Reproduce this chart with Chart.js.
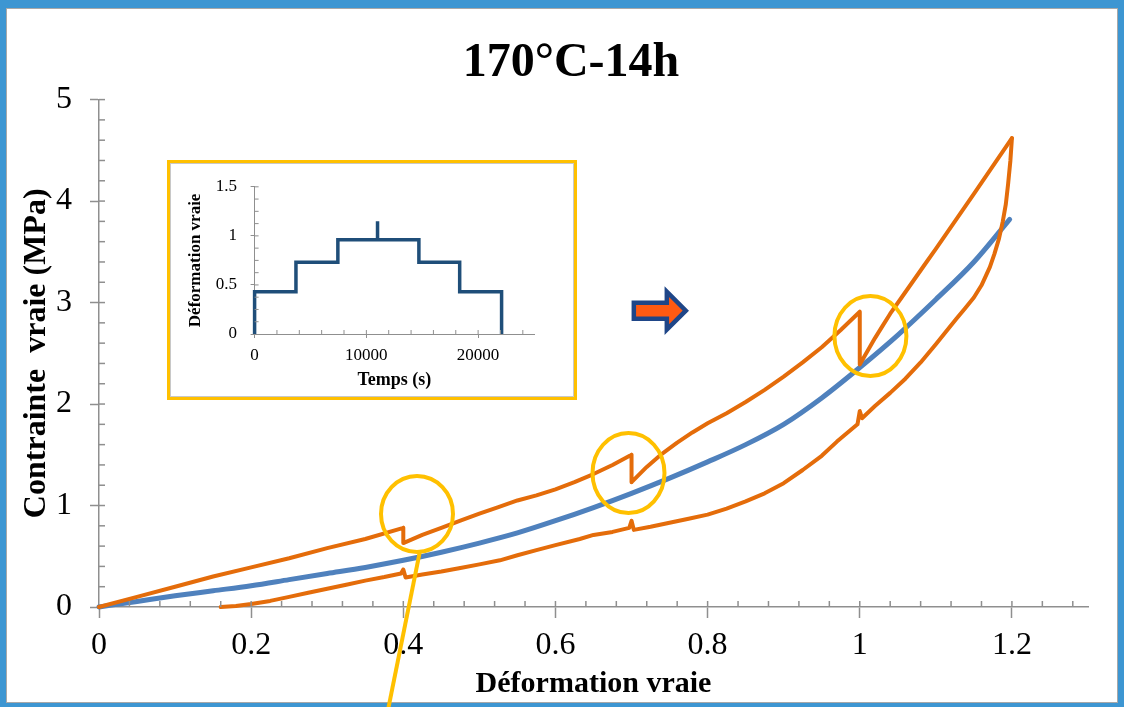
<!DOCTYPE html>
<html>
<head>
<meta charset="utf-8">
<script src="https://cdn.jsdelivr.net/npm/chart.js@4.4.0/dist/chart.umd.min.js"></script>
<style>
  html, body { margin: 0; padding: 0; background: #fff; }
  #page { position: relative; width: 1124px; height: 707px; overflow: hidden; background: #fff; }
  #frame { position: absolute; left: 0; top: 0; width: 1124px; height: 707px; box-sizing: border-box;
    border-style: solid; border-color: #3d96d2; border-width: 8px 6px 4px 6px; }
  #frame-inner { position: absolute; left: 0; top: 0; right: 0; bottom: 0; border: 1px solid #a8a8a8; }
  #main { position: absolute; left: 0; top: 0; }
  #inset { position: absolute; left: 167px; top: 160px; width: 410px; height: 240px; box-sizing: border-box;
    border: 3px solid #ffc000; background: #fff; box-shadow: inset 0 0 0 1px #c8c8c8; }
  #insetChart { position: absolute; left: 0; top: 0; }
</style>
</head>
<body>
<div id="page">
  <div id="frame"><div id="frame-inner"></div></div>
  <canvas id="main" width="1124" height="707"></canvas>
  <div id="inset"><canvas id="insetChart" width="404" height="234"></canvas></div>
</div>
<script>
// monotonic test (blue)
const blueStrain = [0, 0.05, 0.1, 0.15, 0.2, 0.25, 0.3, 0.35, 0.4, 0.45, 0.5, 0.55, 0.6, 0.65, 0.7,
  0.75, 0.8, 0.85, 0.9, 0.95, 1.0, 1.05, 1.1, 1.15, 1.197];
const blueStress = [0, 0.055, 0.11, 0.16, 0.21, 0.27, 0.33, 0.39, 0.46, 0.54, 0.63, 0.73, 0.85, 0.98, 1.12,
  1.27, 1.43, 1.60, 1.80, 2.06, 2.36, 2.68, 3.03, 3.40, 3.82];

// multi-step test, loading branch (orange)
const loadStrain = [0, 0.05, 0.1, 0.15, 0.2, 0.25, 0.3, 0.35, 0.4,
  0.4, 0.425, 0.45, 0.475, 0.5, 0.525, 0.55, 0.575, 0.6, 0.625, 0.65, 0.675, 0.7,
  0.7, 0.72, 0.74, 0.76, 0.78, 0.8, 0.825, 0.85, 0.875, 0.9, 0.925, 0.95, 0.975, 1.0,
  1.0, 1.01, 1.02, 1.03, 1.04, 1.055, 1.07, 1.085, 1.1, 1.15, 1.2];
const loadStress = [0, 0.10, 0.20, 0.30, 0.39, 0.48, 0.58, 0.67, 0.78,
  0.63, 0.71, 0.78, 0.85, 0.92, 0.985, 1.05, 1.10, 1.16, 1.23, 1.31, 1.40, 1.50,
  1.23, 1.38, 1.51, 1.62, 1.72, 1.81, 1.91, 2.02, 2.14, 2.27, 2.41, 2.56, 2.73, 2.91,
  2.39, 2.52, 2.65, 2.77, 2.89, 3.05, 3.21, 3.37, 3.53, 4.07, 4.62];

// unloading branch (orange)
const unloadStrain = [1.2, 1.198, 1.195, 1.192, 1.188, 1.183, 1.177, 1.171, 1.16, 1.15, 1.138, 1.127,
  1.114, 1.1, 1.08, 1.06, 1.04, 1.02, 1.003, 1.0, 0.997, 0.97, 0.95, 0.925,
  0.9, 0.875, 0.85, 0.825, 0.8, 0.775, 0.75, 0.725, 0.703, 0.7, 0.697, 0.675, 0.65, 0.632, 0.6, 0.575, 0.55,
  0.527, 0.5, 0.475, 0.45, 0.425, 0.403, 0.4, 0.397, 0.375, 0.35, 0.325, 0.3, 0.275, 0.25, 0.225, 0.2, 0.18, 0.16];
const unloadStress = [4.62, 4.40, 4.17, 3.97, 3.80, 3.63, 3.48, 3.35, 3.17, 3.05, 2.94, 2.84,
  2.72, 2.59, 2.41, 2.25, 2.11, 1.98, 1.86, 1.93, 1.80, 1.63, 1.49, 1.35,
  1.22, 1.12, 1.04, 0.97, 0.91, 0.87, 0.83, 0.79, 0.76, 0.85, 0.78, 0.74, 0.71, 0.67, 0.61, 0.56, 0.51,
  0.46, 0.42, 0.385, 0.35, 0.32, 0.29, 0.37, 0.33, 0.295, 0.26, 0.22, 0.18, 0.14, 0.10, 0.06, 0.03, 0.01, 0];

// inset: imposed strain vs time
const insetTime = [0, 0, 3700, 3700, 7450, 7450, 11000, 11000, 11000, 14700, 14700, 18350, 18350, 22100, 22100];
const insetStrain = [0, 0.43, 0.43, 0.73, 0.73, 0.96, 0.96, 1.15, 0.96, 0.96, 0.73, 0.73, 0.43, 0.43, 0];
const insetTimeTicks = [0, 10000, 20000];
const insetStrainTicks = [0, 0.5, 1, 1.5];

const serif = "'Liberation Serif', 'Times New Roman', serif";
const axisGray = '#8f8f8f';

function toPoints(xs, ys) {
  return xs.map((x, i) => ({ x: x, y: ys[i] }));
}

function fmt(v) {
  return String(Number(v.toFixed(3)));
}

// inner tick marks (majors cross the axis, minors only inside)
const minorTicks = {
  id: 'minorTicks',
  afterDraw(chart, args, opts) {
    const { ctx } = chart;
    const xs = chart.scales.x, ys = chart.scales.y;
    const x0 = xs.getPixelForValue(xs.min), y0 = ys.getPixelForValue(ys.min);
    ctx.save();
    ctx.strokeStyle = axisGray;
    ctx.lineWidth = opts.width;
    const nx = Math.floor((xs.max - xs.min) / opts.xStep + 1e-6);
    for (let i = 1; i <= nx; i++) {
      const px = xs.getPixelForValue(xs.min + i * opts.xStep);
      ctx.beginPath(); ctx.moveTo(px, y0); ctx.lineTo(px, y0 - opts.length); ctx.stroke();
    }
    const ny = Math.floor((ys.max - ys.min) / opts.yStep + 1e-6);
    for (let i = 1; i <= ny; i++) {
      const py = ys.getPixelForValue(ys.min + i * opts.yStep);
      ctx.beginPath(); ctx.moveTo(x0, py); ctx.lineTo(x0 + opts.length, py); ctx.stroke();
    }
    ctx.restore();
  }
};

// yellow circles, pointer line and arrow drawn over the curves
const callouts = {
  id: 'callouts',
  afterDatasetsDraw(chart) {
    const { ctx } = chart;
    const xs = chart.scales.x, ys = chart.scales.y;
    const rings = [[0.418, 0.917, 36, 38], [0.696, 1.32, 36, 40], [1.014, 2.67, 36, 40]];
    ctx.save();
    ctx.strokeStyle = '#ffc000';
    ctx.lineWidth = 4;
    rings.forEach(r => {
      ctx.beginPath();
      ctx.ellipse(xs.getPixelForValue(r[0]), ys.getPixelForValue(r[1]), r[2], r[3], 0, 0, Math.PI * 2);
      ctx.stroke();
    });
    const cx = xs.getPixelForValue(rings[0][0]), cy = ys.getPixelForValue(rings[0][1]);
    ctx.beginPath();
    ctx.moveTo(cx + 3, cy + 37);
    ctx.lineTo(cx - 31, cy + 206);
    ctx.stroke();

    // arrow
    const ax = xs.getPixelForValue(0.703), ay = ys.getPixelForValue(2.92);
    ctx.beginPath();
    ctx.moveTo(ax, ay - 8);
    ctx.lineTo(ax + 33, ay - 8);
    ctx.lineTo(ax + 33, ay - 19);
    ctx.lineTo(ax + 52, ay);
    ctx.lineTo(ax + 33, ay + 19);
    ctx.lineTo(ax + 33, ay + 8);
    ctx.lineTo(ax, ay + 8);
    ctx.closePath();
    ctx.fillStyle = '#ff5a12';
    ctx.fill();
    ctx.lineJoin = 'miter';
    ctx.lineWidth = 4.5;
    ctx.strokeStyle = '#1f4688';
    ctx.stroke();
    ctx.restore();
  }
};

new Chart(document.getElementById('main'), {
  type: 'scatter',
  data: {
    datasets: [
      { label: 'Charge', data: toPoints(loadStrain, loadStress), showLine: true, borderColor: '#e46c0a',
        borderWidth: 4, pointRadius: 0, clip: false, borderJoinStyle: 'round', borderCapStyle: 'round' },
      { label: 'Décharge', data: toPoints(unloadStrain, unloadStress), showLine: true, borderColor: '#e46c0a',
        borderWidth: 4, pointRadius: 0, clip: false, borderJoinStyle: 'round', borderCapStyle: 'round' },
      { label: 'Monotone', data: toPoints(blueStrain, blueStress), showLine: true, borderColor: '#4f81bd',
        borderWidth: 5, pointRadius: 0, clip: false, borderCapStyle: 'round', cubicInterpolationMode: 'monotone' }
    ]
  },
  options: {
    responsive: false,
    animation: false,
    devicePixelRatio: 1,
    layout: { padding: { left: 54, right: 36, top: 0, bottom: 0 } },
    plugins: {
      legend: { display: false },
      tooltip: { enabled: false },
      title: {
        display: true,
        text: '170°C-14h',
        color: '#000',
        font: { family: serif, size: 48, weight: 'bold', lineHeight: 1.2 },
        padding: { top: 35, bottom: 7 }
      },
      minorTicks: { xStep: 0.04, yStep: 0.2, length: 6, width: 1.5 }
    },
    scales: {
      x: {
        type: 'linear',
        min: 0,
        max: 1.3,
        ticks: { stepSize: 0.2, includeBounds: false, color: '#000', maxRotation: 0, padding: 8,
          font: { family: serif, size: 32, lineHeight: 1.2 }, callback: v => fmt(v) },
        grid: { display: true, drawOnChartArea: false, drawTicks: true, tickLength: 11, tickColor: axisGray, tickWidth: 1.5 },
        border: { display: true, color: axisGray, width: 1.5 },
        title: { display: true, text: 'Déformation vraie', color: '#000',
          font: { family: serif, size: 30, weight: 'bold', lineHeight: 1.2 }, padding: { top: 0, bottom: 5 } },
        afterFit: s => { s.height = 100; }
      },
      y: {
        type: 'linear',
        min: 0,
        max: 5,
        ticks: { stepSize: 1, includeBounds: false, color: '#000', padding: 18,
          font: { family: serif, size: 32, lineHeight: 1.2 }, callback: v => fmt(v) },
        grid: { display: true, drawOnChartArea: false, drawTicks: true, tickLength: 9, tickColor: axisGray, tickWidth: 1.5 },
        border: { display: true, color: axisGray, width: 1.5 },
        title: { display: true, text: 'Contrainte  vraie (MPa)', color: '#000',
          font: { family: serif, size: 32, weight: 'bold', lineHeight: 1.2 }, padding: { top: -36, bottom: 0 } },
        afterFit: s => { s.width = 45; }
      }
    }
  },
  plugins: [minorTicks, callouts]
});

new Chart(document.getElementById('insetChart'), {
  type: 'scatter',
  data: {
    datasets: [
      { label: 'Déformation', data: toPoints(insetTime, insetStrain), showLine: true, borderColor: '#1f4e79',
        borderWidth: 3.5, pointRadius: 0, clip: false, borderJoinStyle: 'miter' }
    ]
  },
  options: {
    responsive: false,
    animation: false,
    devicePixelRatio: 1,
    layout: { padding: { left: 0, right: 40, top: 23, bottom: 0 } },
    plugins: {
      legend: { display: false },
      tooltip: { enabled: false },
      minorTicks: { xStep: 2000, yStep: 0.125, length: 4, width: 1 }
    },
    scales: {
      x: {
        type: 'linear',
        min: 0,
        max: 25000,
        afterBuildTicks: s => { s.ticks = insetTimeTicks.map(v => ({ value: v })); },
        ticks: { color: '#000', maxRotation: 0, autoSkip: false, padding: 7,
          font: { family: serif, size: 17, lineHeight: 1.2 }, callback: v => fmt(v) },
        grid: { display: true, drawOnChartArea: false, drawTicks: true, tickLength: 4, tickColor: axisGray },
        border: { display: true, color: axisGray, width: 1 },
        title: { display: true, text: 'Temps (s)', color: '#000',
          font: { family: serif, size: 18, weight: 'bold', lineHeight: 1.2 }, padding: { top: 0, bottom: 6 } },
        afterFit: s => { s.height = 63; }
      },
      y: {
        type: 'linear',
        min: 0,
        max: 1.5,
        afterBuildTicks: s => { s.ticks = insetStrainTicks.map(v => ({ value: v })); },
        ticks: { color: '#000', autoSkip: false, padding: 13.6,
          font: { family: serif, size: 17, lineHeight: 1.2 }, callback: v => fmt(v) },
        grid: { display: true, drawOnChartArea: false, drawTicks: true, tickLength: 4, tickColor: axisGray },
        border: { display: true, color: axisGray, width: 1 },
        title: { display: true, text: 'Déformation vraie', color: '#000',
          font: { family: serif, size: 17, weight: 'bold', lineHeight: 1.2 }, padding: { top: 15.8, bottom: 0 } },
        afterFit: s => { s.width = 84.6; }
      }
    }
  },
  plugins: [minorTicks]
});
</script>
</body>
</html>
